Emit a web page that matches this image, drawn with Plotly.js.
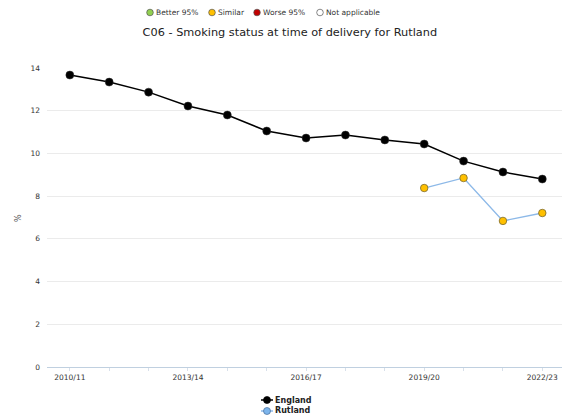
<!DOCTYPE html>
<html>
<head>
<meta charset="utf-8">
<script src="https://cdn.plot.ly/plotly-3.0.1.min.js"></script>
<style>html,body{margin:0;padding:0;background:#fff;}#chart{width:565px;height:419px;}</style>
</head>
<body>
<div id="chart"></div>
<script>
const periods = ["2010/11","2011/12","2012/13","2013/14","2014/15","2015/16","2016/17","2017/18","2018/19","2019/20","2020/21","2021/22","2022/23"];
const tickLabels = ["2010/11","2013/14","2016/17","2019/20","2022/23"];
const englandValues = [13.67,13.34,12.87,12.22,11.80,11.05,10.72,10.86,10.63,10.44,9.64,9.13,8.80];
const rutlandPeriods = ["2019/20","2020/21","2021/22","2022/23"];
const rutlandValues = [8.38,8.85,6.84,7.21];
const rutlandSignificance = ["Similar","Similar","Similar","Similar"];
const sigLabels = ["Better 95%","Similar","Worse 95%","Not applicable"];
const sigColors = ["#92D050","#FFC000","#C00000","#FFFFFF"];
const seriesNames = ["England","Rutland"];

const colorOf = s => sigColors[sigLabels.indexOf(s)];
const fontFam = "DejaVu Sans, Verdana, sans-serif";
const engColor = "#000000", rutLine = "#8DB9E8", rutMarker = "#7CB5EC";

const traces = [
  {x: periods, y: englandValues, name: seriesNames[0], type: "scatter", mode: "lines+markers",
   line: {color: engColor, width: 1.5},
   marker: {color: engColor, size: 8, line: {color: "#333", width: 0.5}},
   cliponaxis: false},
  {x: rutlandPeriods, y: rutlandValues, name: seriesNames[1], type: "scatter", mode: "lines",
   line: {color: rutLine, width: 1.3}, cliponaxis: false},
  {x: rutlandPeriods, y: rutlandValues, name: seriesNames[1], type: "scatter", mode: "markers",
   marker: {color: rutlandSignificance.map(colorOf), size: 7.5, line: {color: "#7a6a30", width: 0.8}},
   cliponaxis: false}
];

// paper-coordinate helpers (plot area: x 47..562, y 68..367)
const px = x => (x - 47) / 515;
const py = y => (367 - y) / 299;

const shapes = [];
const annotations = [];

// top significance key
const keyX = [150, 212, 257, 320];
sigLabels.forEach((lab, i) => {
  shapes.push({type: "circle", xref: "paper", yref: "paper", xsizemode: "pixel", ysizemode: "pixel",
    xanchor: px(keyX[i]), yanchor: py(12.5), x0: -3.3, x1: 3.3, y0: -3.3, y1: 3.3,
    fillcolor: sigColors[i], line: {color: "#555", width: 0.7}});
  annotations.push({xref: "paper", yref: "paper", x: px(keyX[i] + 4), y: py(12.5),
    xanchor: "left", yanchor: "middle", showarrow: false, text: lab,
    font: {family: fontFam, size: 7.5, color: "#333"}});
});

// bottom series legend
const legY = [400, 411];
const legLine = [engColor, rutLine];
const legFill = [engColor, rutMarker];
const legEdge = [engColor, "#4a6f99"];
seriesNames.forEach((nm, i) => {
  shapes.push({type: "line", xref: "paper", yref: "paper", xsizemode: "pixel", ysizemode: "pixel",
    xanchor: px(267), yanchor: py(legY[i]), x0: -6, x1: 6, y0: 0, y1: 0,
    line: {color: legLine[i], width: 1.5}});
  shapes.push({type: "circle", xref: "paper", yref: "paper", xsizemode: "pixel", ysizemode: "pixel",
    xanchor: px(267), yanchor: py(legY[i]), x0: -3.5, x1: 3.5, y0: -3.5, y1: 3.5,
    fillcolor: legFill[i], line: {color: legEdge[i], width: 0.7}});
  annotations.push({xref: "paper", yref: "paper", x: px(273), y: py(legY[i]),
    xanchor: "left", yanchor: "middle", showarrow: false, text: "<b>" + nm + "</b>",
    font: {family: fontFam, size: 8, color: "#222"}});
});

// y-axis title
annotations.push({xref: "paper", yref: "paper", x: px(18), y: py(218),
  xanchor: "center", yanchor: "middle", showarrow: false, text: "%", textangle: -90,
  font: {family: fontFam, size: 8, color: "#555"}});

const layout = {
  width: 565, height: 419,
  margin: {l: 47, r: 3, t: 68, b: 52},
  paper_bgcolor: "#fff", plot_bgcolor: "#fff",
  font: {family: fontFam, color: "#333"},
  title: {text: "C06 - Smoking status at time of delivery for Rutland", x: 0.513, xanchor: "center",
    y: 1 - 32 / 419, yanchor: "middle", font: {family: fontFam, size: 11.3, color: "#222"}},
  xaxis: {type: "category", categoryorder: "array", categoryarray: periods,
    range: [-0.58, 12.5], tickmode: "array", tickvals: periods,
    ticktext: periods.map(p => tickLabels.includes(p) ? p : ""),
    showgrid: false, showline: true, linecolor: "#C0D0E0", linewidth: 1,
    ticks: "outside", ticklen: 3, tickcolor: "#D8E0EA",
    tickfont: {family: fontFam, size: 7.5, color: "#333"}, zeroline: false, fixedrange: true},
  yaxis: {range: [0, 14], dtick: 2, tick0: 0, showgrid: true, gridcolor: "#EBEBEB", gridwidth: 1,
    zeroline: false, showline: false, ticks: "", ticklabelstandoff: 6,
    tickfont: {family: fontFam, size: 7.5, color: "#333"}, fixedrange: true},
  showlegend: false,
  shapes: shapes,
  annotations: annotations
};

Plotly.newPlot("chart", traces, layout, {displayModeBar: false, staticPlot: true});
</script>
</body>
</html>
